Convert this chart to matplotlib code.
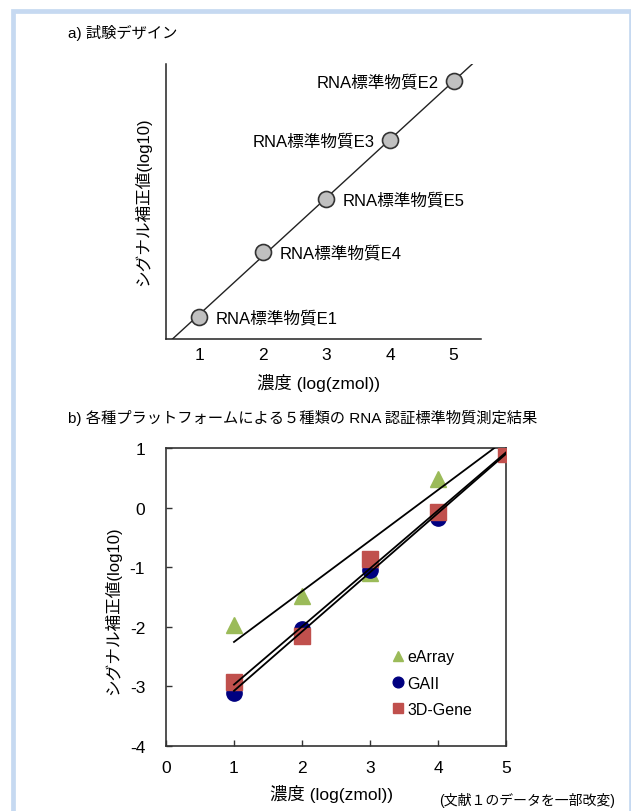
import matplotlib
matplotlib.use("Agg")
import matplotlib.pyplot as plt
import matplotlib.patches as patches
import numpy as np

plt.rcParams['font.family'] = ['Liberation Sans', 'Noto Sans CJK JP', 'DejaVu Sans']
plt.rcParams['axes.unicode_minus'] = False

# a) design
design_x = [1, 2, 3, 4, 5]
design_y = [1.0, 2.1, 3.0, 4.0, 5.0]
design_labels = ['RNA標準物質E1', 'RNA標準物質E4', 'RNA標準物質E5', 'RNA標準物質E3', 'RNA標準物質E2']
label_side = ['right', 'right', 'right', 'left', 'left']

# b) measured
conc = [1, 2, 3, 4, 5]
earray = [-1.97, -1.48, -1.10, 0.48, 1.30]
gaii = [-3.11, -2.03, -1.05, -0.17, 0.93]
gene3d = [-2.93, -2.15, -0.86, -0.07, 0.90]

W, H = 631, 812
fig = plt.figure(figsize=(W / 100, H / 100), dpi=100)

# light blue frame
fig.patches.append(patches.Rectangle((13 / W, -0.05), (630.5 - 13) / W, 1.05 - 11.5 / H,
                                     transform=fig.transFigure, fill=False,
                                     edgecolor='#C6D9F1', lw=3.4))

# ---- panel a
ax1 = fig.add_axes([166 / W, 1 - 340 / H, (481 - 166) / W, (340 - 65) / H])
ax1.set_xlim(0.481, 5.43)
ax1.set_ylim(0.627, 5.29)
for s in ['top', 'right']:
    ax1.spines[s].set_visible(False)
for s in ['left', 'bottom']:
    ax1.spines[s].set_linewidth(1.1)
    ax1.spines[s].set_color('#222222')
ax1.set_xticks(design_x)
ax1.set_yticks([])
ax1.tick_params(axis='x', length=0, pad=6, labelsize=12.5)

k, b = np.polyfit(design_x, design_y, 1)
lx = np.array([0.481, 5.31])
ax1.plot(lx, k * lx + b, color='#222222', lw=1.0, zorder=2)
ax1.plot(design_x, design_y, 'o', ms=11.5, mfc='#C0C0C0', mec='#333333', mew=1.2, zorder=3)
for x, y, t, side in zip(design_x, design_y, design_labels, label_side):
    if side == 'right':
        ax1.annotate(t, (x, y), xytext=(12, 0), textcoords='offset points',
                     ha='left', va='center', fontsize=12)
    else:
        ax1.annotate(t, (x, y), xytext=(-11, 0), textcoords='offset points',
                     ha='right', va='center', fontsize=12)

fig.text(68 / W, 1 - 33 / H, 'a) 試験デザイン', fontsize=11, ha='left', va='center')
fig.text(143 / W, 1 - 202 / H, 'シグナル補正値(log10)', fontsize=12, rotation=90,
         ha='center', va='center')
fig.text(319 / W, 1 - 383 / H, '濃度 (log(zmol))', fontsize=12.5, ha='center', va='center')

# ---- panel b
ax2 = fig.add_axes([166 / W, 1 - 747 / H, (506 - 166) / W, (747 - 449) / H])
ax2.set_xlim(0, 5)
ax2.set_ylim(-4, 1)
ax2.set_xticks(range(0, 6))
ax2.set_yticks(range(-4, 2))
for s in ax2.spines.values():
    s.set_linewidth(1.2)
    s.set_color('#333333')
ax2.tick_params(direction='in', length=4, width=1, color='#333333', labelsize=12.5)
ax2.tick_params(axis='x', pad=10)
ax2.tick_params(axis='y', pad=15)

ax2.plot(conc, earray, '^', ms=11, color='#9BBB59', label='eArray', zorder=3)
ax2.plot(conc, gaii, 'o', ms=11, color='#000080', label='GAII', zorder=3)
ax2.plot(conc, gene3d, 's', ms=11, color='#C0504D', label='3D-Gene', zorder=3)

xs = np.array([1, 5])
for ser in [earray, gaii, gene3d]:
    k, b = np.polyfit(conc, ser, 1)
    ax2.plot(xs, k * xs + b, color='black', lw=1.3, zorder=4)

ax2.legend(loc='upper left', bbox_to_anchor=((391.6 - 166) / 340, 1 - (650.5 - 449) / 298),
           borderaxespad=0, borderpad=0, frameon=False, fontsize=11.5, handlelength=0.8,
           handletextpad=0.2, labelspacing=0.7, markerscale=0.7)

fig.text(68 / W, 1 - 418 / H, 'b) 各種プラットフォームによる５種類の RNA 認証標準物質測定結果',
         fontsize=11, ha='left', va='center')
fig.text(113 / W, 1 - 611 / H, 'シグナル補正値(log10)', fontsize=12, rotation=90,
         ha='center', va='center')
fig.text(332 / W, 1 - 794 / H, '濃度 (log(zmol))', fontsize=12.5, ha='center', va='center')
fig.text(615 / W, 1 - 800 / H, '(文献１のデータを一部改変)', fontsize=10, ha='right', va='center')

fig.savefig('out.png', dpi=100)
